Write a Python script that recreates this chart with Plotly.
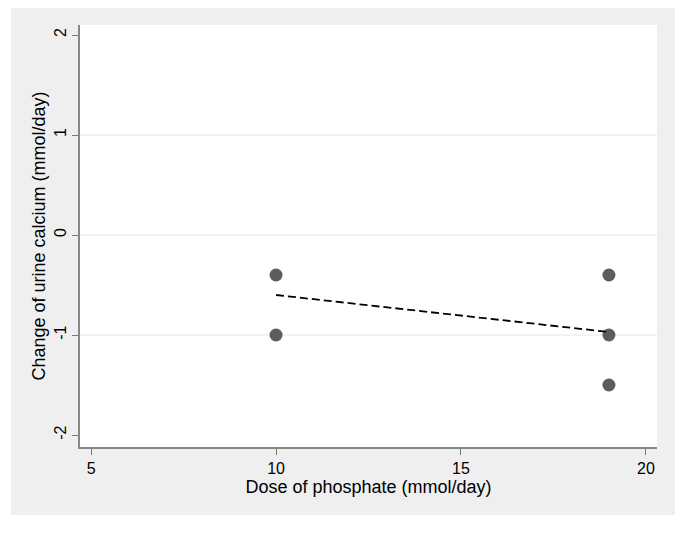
import plotly.graph_objects as go

dose = [10, 10, 19, 19, 19]
change = [-0.4, -1.0, -0.4, -1.0, -1.5]
fit_x = [10, 19]
fit_y = [-0.6, -0.97]
x_ticks = [5, 10, 15, 20]
y_ticks = [-2, -1, 0, 1, 2]
y_tick_labels = ["-2", "-1", "0", "1", "2"]

# page body has an 8px margin; figure sized to fit inside the window
OFF = 8
W, H = 685 - 2 * OFF, 535 - 2 * OFF
L, T = 80 - OFF, 25 - OFF
R, B = W - (657 - OFF), H - (447 - OFF)
pw, ph = W - L - R, H - T - B

def px_x(p):
    return (p - OFF - L) / pw

def px_y(p):
    return (H - B - (p - OFF)) / ph

fig = go.Figure()
fig.add_trace(go.Scatter(x=dose, y=change, mode="markers",
                         marker=dict(color="#5d5d5d", size=13, line=dict(width=0)),
                         showlegend=False, cliponaxis=False))
fig.add_trace(go.Scatter(x=fit_x, y=fit_y, mode="lines",
                         line=dict(color="black", width=1.8, dash="8px,4px"),
                         showlegend=False))

font = dict(family="Liberation Sans, Arial, sans-serif", size=16, color="black")
tfont = dict(family="Liberation Sans, Arial, sans-serif", size=18, color="black")

fig.update_layout(
    width=W, height=H,
    margin=dict(l=L, r=R, t=T, b=B, autoexpand=False),
    paper_bgcolor="white", plot_bgcolor="white",
    font=font,
    shapes=[
        dict(type="rect", xref="paper", yref="paper", layer="below",
             x0=px_x(11), x1=px_x(675), y0=px_y(515), y1=px_y(6),
             fillcolor="#efefef", line=dict(width=0)),
        dict(type="rect", xref="paper", yref="paper", layer="below",
             x0=0, x1=1, y0=0, y1=1,
             fillcolor="white", line=dict(width=0)),
    ],
    xaxis=dict(range=[4.7, 20.3], tickvals=x_ticks, ticks="outside", ticklen=6,
               tickcolor="#777777", tickwidth=1, showline=True, linecolor="#888888",
               linewidth=1.5, showgrid=False, zeroline=False,
               title=dict(text="Dose of phosphate (mmol/day)", standoff=3, font=tfont),
               tickfont=font, automargin=False),
    yaxis=dict(range=[-2.12, 2.1], tickvals=y_ticks, ticktext=y_tick_labels,
               ticks="outside", ticklen=6,
               tickcolor="#777777", tickwidth=1, showline=True, linecolor="#888888",
               linewidth=1.5, showgrid=False, zeroline=False, tickangle=-90,
               title=dict(text="Change of urine calcium (mmol/day)", standoff=2, font=tfont),
               tickfont=font, automargin=False),
)

for v in [-1, 0, 1]:
    fig.add_shape(type="line", xref="paper", yref="y", x0=0, x1=1, y0=v, y1=v,
                  line=dict(color="#e6e6e6", width=1), layer="below")

fig.write_html("out.html")
